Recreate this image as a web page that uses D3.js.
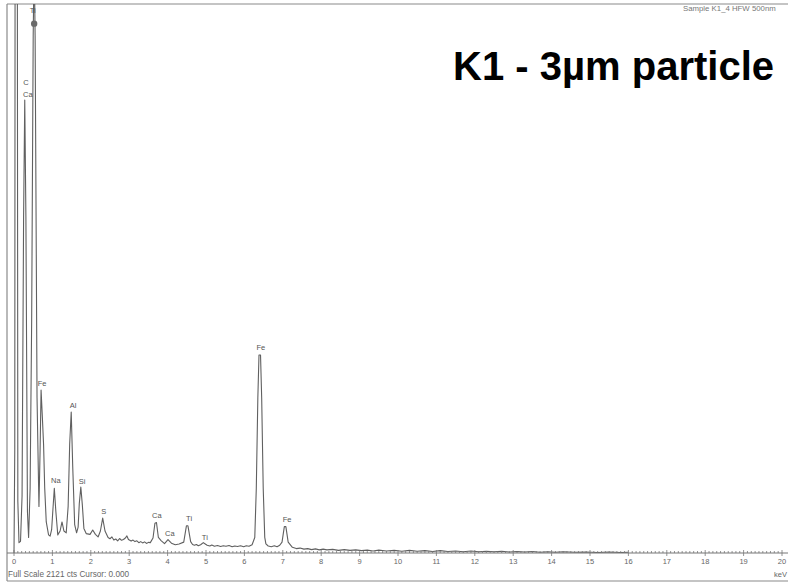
<!DOCTYPE html>
<html><head><meta charset="utf-8">
<script src="https://cdn.jsdelivr.net/npm/d3@7/dist/d3.min.js"></script>
<style>html,body{margin:0;padding:0;background:#fff;}svg{display:block;}</style>
</head><body>
<svg id="chart" width="788" height="582"></svg>
<script>
// ---- data ----
const energy = [0.00,0.02,0.04,0.07,0.10,0.13,0.17,0.21,0.25,0.28,0.31,0.35,0.38,
  0.42,0.46,0.50,0.525,0.55,0.60,0.65,0.68,0.705,0.74,0.77,0.80,0.84,0.90,0.94,
  0.98,1.01,1.05,1.09,1.14,1.20,1.25,1.30,1.36,1.41,1.45,1.49,1.53,1.58,1.63,
  1.67,1.70,1.74,1.78,1.82,1.88,1.98,2.05,2.12,2.19,2.25,2.31,2.37,
  2.45,2.50,2.55,2.60,2.65,2.70,2.75,2.80,2.85,2.90,2.94,2.98,3.05,3.10,3.15,
  3.20,3.25,3.30,3.35,3.40,3.45,3.50,3.55,3.62,3.67,3.71,3.76,3.83,
  3.92,4.01,4.10,4.20,4.30,4.42,4.49,4.53,4.60,4.65,4.70,4.75,4.80,4.86,4.93,
  4.98,5.03,5.10,5.15,5.22,5.30,5.38,5.45,5.52,5.60,5.68,5.75,5.82,5.90,5.98,
  6.05,6.12,6.20,6.27,6.31,6.35,6.38,6.42,6.45,6.49,6.53,6.56,6.62,6.70,6.78,
  6.85,6.92,6.98,7.04,7.08,7.14,7.25,7.35,7.45,7.55,7.65,7.75,7.85,7.95,8.05,
  8.15,8.30,8.45,8.60,8.75,8.90,9.05,9.20,9.35,9.50,9.70,9.90,10.1,10.3,10.5,
  10.7,10.9,11.1,11.3,11.5,11.7,11.9,12.1,12.3,12.5,12.7,12.9,13.1,13.3,13.5,
  13.7,13.9,14.1,14.3,14.6,14.9,15.2,15.5,15.8,16.0];
const counts = [0,400,5000,5000,200,40,45,220,1300,1750,1300,160,60,
  250,900,2000,2300,2000,600,180,400,630,520,420,250,120,70,65,
  90,160,250,160,70,85,120,85,78,180,420,545,330,110,78,
  100,190,255,185,95,75,72,89,72,62,85,135,85,
  60,55,62,50,54,47,56,49,52,58,66,52,46,50,44,
  47,40,44,39,43,37,41,40,58,115,118,60,48,
  36,52,38,32,35,42,105,105,44,33,30,33,28,32,40,
  35,30,27,31,26,29,25,28,26,29,24,27,25,28,24,
  28,26,32,60,250,600,765,765,600,250,60,35,27,24,28,
  24,30,42,102,102,42,22,17,19,15,17,13,16,12,15,
  12,14,10,13,10,12,9,11,8,11,8,10,7,10,7,
  9,6,9,6,8,5,8,5,7,5,7,4,6,4,6,
  3,5,3,5,3,4,2,4,2,3];

const labelText   = ["Ti","C","Ca","Fe","Na","Al","Si","S","Ca","Ca","Ti","Ti","Fe","Fe"];
const labelEnergy = [0.49,0.31,0.36,0.73,1.09,1.54,1.77,2.34,3.72,4.06,4.56,4.97,6.43,7.11];
const labelCounts = [2086,1808,1761,645,270,560,266,151,135,66,124,50,784,120];

const cursorEnergy = [0.525];
const cursorCounts = [2045];

const xTicks = d3.range(0, 21);          // 0..20 keV labels
const minorTicks = d3.range(0, 200.5, 1).map(d => d / 10);
const fullScale = 2121;
const title = "K1 - 3µm particle";
const headerText = "Sample K1_4 HFW 500nm";
const footerText = "Full Scale 2121 cts Cursor: 0.000";
const unitText = "keV";

// ---- drawing ----
const svg = d3.select("#chart");
const FONT = "Liberation Sans, Arial, sans-serif";
const frameLeft = 7, frameTop = 4, axisY = 553, frameBottom = 581, W = 788;
const x = d3.scaleLinear().domain([0, 20]).range([14, 782]);
const y = d3.scaleLinear().domain([0, fullScale]).range([axisY, frameTop]);

svg.append("defs").append("clipPath").attr("id","plotclip")
  .append("rect").attr("x", frameLeft).attr("y", frameTop)
  .attr("width", W - frameLeft).attr("height", axisY - frameTop);

// frame
const frame = svg.append("g").attr("stroke", "#8a8a8a").attr("stroke-width", 1.2);
frame.append("line").attr("x1", frameLeft).attr("x2", W).attr("y1", frameTop).attr("y2", frameTop);
frame.append("line").attr("x1", frameLeft).attr("x2", frameLeft).attr("y1", frameTop).attr("y2", frameBottom);
frame.append("line").attr("x1", frameLeft).attr("x2", W).attr("y1", frameBottom).attr("y2", frameBottom);

// spectrum
const pts = energy.map((e, i) => [e, counts[i]]);
const line = d3.line().x(d => x(d[0])).y(d => y(d[1]));
svg.append("g").attr("clip-path", "url(#plotclip)")
  .append("path").datum(pts).attr("d", line)
  .attr("fill", "none").attr("stroke", "#606060").attr("stroke-width", 1.1)
  .attr("stroke-linejoin", "round");

// cursor marker
svg.selectAll("circle.cur").data(cursorEnergy).enter().append("circle")
  .attr("cx", d => x(d)).attr("cy", (d, i) => y(cursorCounts[i]))
  .attr("r", 3.2).attr("fill", "#6a6a6a");

// axis
const isMajor = d => Math.abs(d - Math.round(d)) < 1e-6;
const ax = svg.append("g");
ax.append("line").attr("x1", frameLeft).attr("x2", W).attr("y1", axisY).attr("y2", axisY)
  .attr("stroke", "#777").attr("stroke-width", 1);
ax.selectAll("line.minor").data(minorTicks).enter().append("line")
  .attr("x1", d => x(d)).attr("x2", d => x(d))
  .attr("y1", d => isMajor(d) ? axisY - 3 : axisY - 2)
  .attr("y2", d => isMajor(d) ? axisY + 3 : axisY)
  .attr("stroke", "#777").attr("stroke-width", 0.8);
ax.selectAll("text.tl").data(xTicks).enter().append("text")
  .attr("x", d => x(d)).attr("y", axisY + 11)
  .attr("text-anchor", "middle").attr("font-family", FONT)
  .attr("font-size", 7.5).attr("fill", "#666").text(d => d);
svg.append("text").attr("x", 787).attr("y", 577).attr("text-anchor", "end").attr("font-family", FONT)
  .attr("font-size", 7.5).attr("fill", "#666").text(unitText);
svg.append("text").attr("x", 8).attr("y", 577).attr("font-family", FONT)
  .attr("font-size", 8.2).attr("fill", "#666").text(footerText);

// header
svg.append("text").attr("x", 683).attr("y", 11).attr("font-family", FONT)
  .attr("font-size", 7.8).attr("fill", "#777").text(headerText);

// peak labels
svg.selectAll("text.pk").data(labelText).enter().append("text")
  .attr("x", (d, i) => x(labelEnergy[i])).attr("y", (d, i) => y(labelCounts[i]))
  .attr("text-anchor", "middle").attr("font-family", FONT)
  .attr("font-size", 7.5).attr("fill", "#555").text(d => d);

// title
svg.append("text").attr("x", 774).attr("y", 80).attr("text-anchor", "end")
  .attr("font-family", FONT).attr("font-weight", "bold")
  .attr("font-size", 40).attr("fill", "#000").text(title);
</script>
</body></html>
